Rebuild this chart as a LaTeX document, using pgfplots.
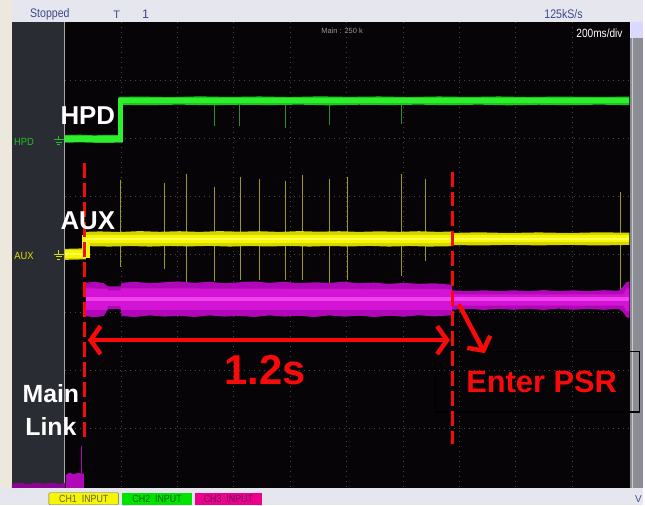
\documentclass[border=0pt]{standalone}
\usepackage{pgfplots}
\pgfplotsset{compat=1.18}
\usepackage{fontspec}
\setmainfont{Liberation Sans}
\usetikzlibrary{arrows.meta}
\definecolor{barbg}{HTML}{E6E6EE}
\definecolor{beige}{HTML}{ECE8DC}
\definecolor{panel}{HTML}{292C33}
\definecolor{scope}{HTML}{060406}
\definecolor{gridc}{HTML}{46464A}
\definecolor{scroll}{HTML}{8C8C94}
\definecolor{gout}{HTML}{1CC41C}
\definecolor{gin}{HTML}{2CF02C}
\definecolor{gspk}{HTML}{2E8E2E}
\definecolor{yout}{HTML}{D4D400}
\definecolor{yin}{HTML}{F6F600}
\definecolor{yctr}{HTML}{FFFF50}
\definecolor{yspk}{HTML}{9A9A1E}
\definecolor{mout}{HTML}{B008B8}
\definecolor{min}{HTML}{D414D4}
\definecolor{mctr}{HTML}{F040F0}
\definecolor{ann}{HTML}{F80A0A}
\definecolor{stxt}{HTML}{3A4A8C}
\begin{document}
\begin{tikzpicture}
\begin{axis}[scale only axis, width=645bp, height=506bp,
  xmin=0, xmax=645, ymin=0, ymax=506, y dir=reverse,
  hide axis, clip=false, unbounded coords=jump]
% ---------- backgrounds ----------
\addplot[fill=barbg, draw=none] coordinates {(0,0)(645,0)(645,506)(0,506)} -- cycle;
\addplot[fill=beige, draw=none] coordinates {(0,0)(12,0)(12,489)(0,489)} -- cycle;
\addplot[fill=panel, draw=none] coordinates {(12,22)(65,22)(65,489)(12,489)} -- cycle;
\addplot[fill=scope, draw=none] coordinates {(65,22)(632,22)(632,489)(65,489)} -- cycle;
\addplot[fill=scroll, draw=none] coordinates {(632,38)(645,38)(645,489)(632,489)} -- cycle;
\addplot[fill=white!85!blue, draw=none] coordinates {(633,22)(645,22)(645,38)(633,38)} -- cycle;
\addplot[color=gray!70, line width=0.8bp] coordinates {(65,22)(65,489)};
\addplot[color=gray!40, line width=0.8bp] coordinates {(634,38)(634,489)};
% ---------- grid ----------
\addplot[gridc, line width=0.9bp, dash pattern=on 1bp off 4bp] coordinates {
(121.5,22)(121.5,489)(121.5,nan)
(178,22)(178,489)(178,nan)
(234.5,22)(234.5,489)(234.5,nan)
(291,22)(291,489)(291,nan)
(347.5,22)(347.5,489)(347.5,nan)
(404,22)(404,489)(404,nan)
(460.5,22)(460.5,489)(460.5,nan)
(517,22)(517,489)(517,nan)
(573.5,22)(573.5,489)(573.5,nan)
(65,80.5)(632,80.5)(632,nan)
(65,138.6)(632,138.6)(632,nan)
(65,196.8)(632,196.8)(632,nan)
(65,254.9)(632,254.9)(632,nan)
(65,313)(632,313)(632,nan)
(65,371.2)(632,371.2)(632,nan)
(65,429.3)(632,429.3)};
% ---------- HPD (green) ----------
\addplot[gspk, line width=1bp] coordinates {
(215,104)(215,126)(215,nan)
(240,104)(240,126)(240,nan)
(286,104)(286,128)(286,nan)
(330,104)(330,125)(330,nan)
(403,104)(403,124)};
\addplot[fill=gout, draw=none] coordinates {
(65,135.5)(80,135)(95,135.7)(110,135.1)(119,135.5)(119,97.2)(140,96.8)(170,97.4)(200,96.6)(230,97.2)(260,96.7)(290,97.3)(320,96.6)(350,97.1)(380,96.7)(410,97.3)(440,96.7)(470,97.2)(500,96.7)(530,97.3)(560,96.8)(590,97.2)(631,96.9)
(631,105.4)(600,104.9)(570,105.5)(540,105)(510,105.6)(480,104.9)(450,105.5)(420,104.9)(390,105.4)(360,105)(330,105.6)(300,104.9)(270,105.4)(240,105)(210,105.5)(180,104.9)(150,105.4)(123,105.2)(123,143)(100,143.3)(80,142.7)(65,143.1)} -- cycle;
\addplot[gin, line width=5.5bp] coordinates {(65,139.2)(121,139.2)(121,101)(631,101)};
% ---------- AUX (yellow) ----------
\addplot[yspk, line width=1bp] coordinates {
(121,180)(121,268)(121,nan)
(165,183)(165,270)(165,nan)
(187,174)(187,285)(187,nan)
(215,187)(215,282)(215,nan)
(241,177)(241,281)(241,nan)
(260,179)(260,281)(260,nan)
(286,181)(286,281)(286,nan)
(303,175)(303,281)(303,nan)
(330,179)(330,284)(330,nan)
(348,177)(348,281)(348,nan)
(403,174)(403,277)(403,nan)
(427,179)(427,262)(427,nan)
(622,192)(622,300)};
\addplot[fill=yout, draw=none] coordinates {
(65,249.5)(84,249)(84,232.5)(100,232)(120,232.6)(140,231.7)(160,232.4)(180,231.8)(200,232.5)(220,231.7)(240,232.3)(260,231.8)(280,232.5)(300,231.7)(320,232.3)(340,231.8)(360,232.5)(380,231.9)(400,232.4)(420,231.8)(440,232.5)(454,232)(454,233.5)(480,232.9)(510,233.6)(540,233)(570,233.6)(600,232.9)(631,233.3)
(631,245.5)(600,246.1)(570,245.5)(540,246)(510,245.5)(480,246.1)(454,245.6)(454,246.8)(430,247.2)(410,246.6)(390,247.2)(370,246.5)(350,247.1)(330,246.6)(310,247.2)(290,246.5)(270,247.1)(250,246.6)(230,247.2)(210,246.5)(190,247)(170,246.6)(150,247.2)(130,246.6)(110,247.2)(88,246.8)(86,260)(65,260.5)} -- cycle;
\addplot[yin, line width=8bp] coordinates {(65,254.8)(86,254.8)(86,239.5)(454,239.5)};
\addplot[yin, line width=7bp] coordinates {(454,239.5)(631,239.5)};
\addplot[yctr, line width=1.5bp] coordinates {(65,254.8)(86,254.8)(86,239.5)(631,239.5)};
% ---------- Main Link (magenta) ----------
\addplot[fill=mout, draw=none] coordinates {
(86,283.5)(95,282.5)(104,284)(108,287)(121,287)(122,283.5)(135,282.5)(150,284)(165,283)(180,282.2)(195,283.6)(210,282.5)(225,284)(240,283)(255,282.2)(270,283.6)(285,282.5)(300,284)(315,283)(330,283.6)(345,282.5)(360,284)(375,283.4)(390,284.6)(405,283.6)(420,284.6)(435,284)(453,285.5)
(453,291)(470,292)(485,291)(500,292)(515,291)(530,292)(545,290.8)(560,292)(575,291)(590,292)(605,290.9)(620,291.5)(625,287)(628,283)(631,282)
(631,319)(628,318)(625,313)(620,309.5)(605,310.6)(590,309.5)(575,310.6)(560,309.4)(545,310.7)(530,309.5)(515,310.6)(500,309.5)(485,310.7)(470,309.6)(453,310.5)
(453,316)(435,317.3)(420,316)(405,317.5)(390,316.6)(375,317.8)(360,316.5)(345,317.4)(330,316.2)(315,317.8)(300,316.6)(285,317.4)(270,316.2)(255,317.8)(240,316.6)(225,317.4)(210,316.2)(195,317.8)(180,316.6)(165,317.4)(150,316.2)(135,317.8)(122,316.8)(121,310)(108,310)(104,316.8)(95,318)(86,317)} -- cycle;
\addplot[fill=min, draw=none] coordinates {
(86,289)(108,289.5)(108,291)(121,291)(121,289)(453,290)(453,295)(625,295)(628,289)(631,289)
(631,312)(628,312)(625,306.5)(453,306.5)(453,311)(121,311)(121,307)(108,307)(108,311)(86,311)} -- cycle;
\addplot[mctr, line width=4bp] coordinates {(86,300)(631,300)};
% magenta at bottom left
\addplot[fill=mout, draw=none] coordinates {(66,476)(70,474)(74,475.5)(78,474)(84,475)(84,489)(66,489)} -- cycle;
\addplot[fill=mout!80!black, draw=none] coordinates {(12,485)(20,484)(28,485.5)(36,484)(44,485)(52,484)(60,485.2)(65,484)(65,489)(12,489)} -- cycle;
\addplot[mout, line width=0.8bp] coordinates {(82,447)(82,474)};
% ---------- left panel labels ----------
\node[text=gin!80!black, font=\fontsize{10.5}{10}\selectfont, anchor=center] at (24,142) {\scalebox{0.9}[1]{HPD}};
\node[text=yin!90!black, font=\fontsize{10.5}{10}\selectfont, anchor=center] at (24,257) {\scalebox{0.9}[1]{AUX}};
\addplot[gin!80!black, line width=0.8bp] coordinates {(54,140)(64,140)(64,nan)(56,142.5)(62,142.5)(62,nan)(57.5,145)(60.5,145)(60.5,nan)(59,136)(59,140)};
\addplot[yin!90!black, line width=0.8bp] coordinates {(54,255)(64,255)(64,nan)(56,257.5)(62,257.5)(62,nan)(57.5,260)(60.5,260)(60.5,nan)(59,251)(59,255)};
% ---------- top bar ----------
\node[text=stxt, font=\fontsize{12.5}{12}\selectfont, anchor=center] at (50,14) {\scalebox{0.85}[1]{Stopped}};
\node[text=stxt, font=\fontsize{11}{10}\selectfont, anchor=center] at (117,15) {T};
\node[text=stxt, font=\fontsize{12.5}{12}\selectfont, anchor=center] at (146,14) {1};
\node[text=stxt, font=\fontsize{12.5}{12}\selectfont, anchor=center] at (565,14) {\scalebox{0.85}[1]{125kS/s}};
\node[text=gray!80, font=\fontsize{7.5}{8}\selectfont, anchor=center] at (343,31) {Main : 250 k};
\node[text=white, font=\fontsize{12}{12}\selectfont, anchor=center] at (601,33) {\scalebox{0.85}[1]{200ms/div}};
% ---------- bottom bar ----------
\node[fill=yin, draw=gray!80!black, rounded corners=1bp, minimum width=70bp, minimum height=12bp, inner sep=0pt, text=black!70!yellow, font=\fontsize{10.5}{10}\selectfont] at (84,500) {\scalebox{0.85}[1]{CH1\ \ INPUT}};
\node[fill=green!90!black, draw=none, minimum width=70bp, minimum height=12bp, inner sep=0pt, text=green!35!black, font=\fontsize{10.5}{10}\selectfont] at (157.5,500) {\scalebox{0.85}[1]{CH2\ \ INPUT}};
\node[fill=magenta, draw=none, minimum width=68bp, minimum height=12bp, inner sep=0pt, text=violet!80!black, font=\fontsize{10.5}{10}\selectfont] at (229,500) {\scalebox{0.85}[1]{CH3\ \ INPUT}};
\node[text=stxt, font=\fontsize{10}{10}\selectfont, anchor=center] at (640,500) {V};
% ---------- annotations ----------
\addplot[black, line width=1.2bp] coordinates {(437,352)(641,352)(641,413)(437,413)} -- cycle;
\addplot[ann, line width=3.2bp, dash pattern=on 15bp off 5bp] coordinates {(85,163)(85,440)};
\addplot[ann, line width=3.2bp, dash pattern=on 15bp off 5bp] coordinates {(454,172)(454,445)};
\addplot[ann, line width=4.5bp, {Straight Barb[length=10bp,width=28bp]}-{Straight Barb[length=10bp,width=28bp]}] coordinates {(88,341)(451,341)};
\addplot[ann, line width=4.5bp, -{Straight Barb[length=10bp,width=26bp]}] coordinates {(460,305)(486,354)};
\node[text=white, font=\bfseries\fontsize{26}{26}\selectfont, anchor=center] at (88,116) {HPD};
\node[text=white, font=\bfseries\fontsize{26}{26}\selectfont, anchor=center] at (88,221) {AUX};
\node[text=white, font=\bfseries\fontsize{25}{25}\selectfont, anchor=center] at (51,395) {Main};
\node[text=white, font=\bfseries\fontsize{25}{25}\selectfont, anchor=center] at (51,428) {Link};
\node[text=ann, font=\bfseries\fontsize{42}{42}\selectfont, anchor=base] at (266,385) {1.2s};
\node[text=ann, font=\bfseries\fontsize{31}{31}\selectfont, anchor=base] at (543,393) {Enter PSR};
\end{axis}
\end{tikzpicture}
\end{document}
